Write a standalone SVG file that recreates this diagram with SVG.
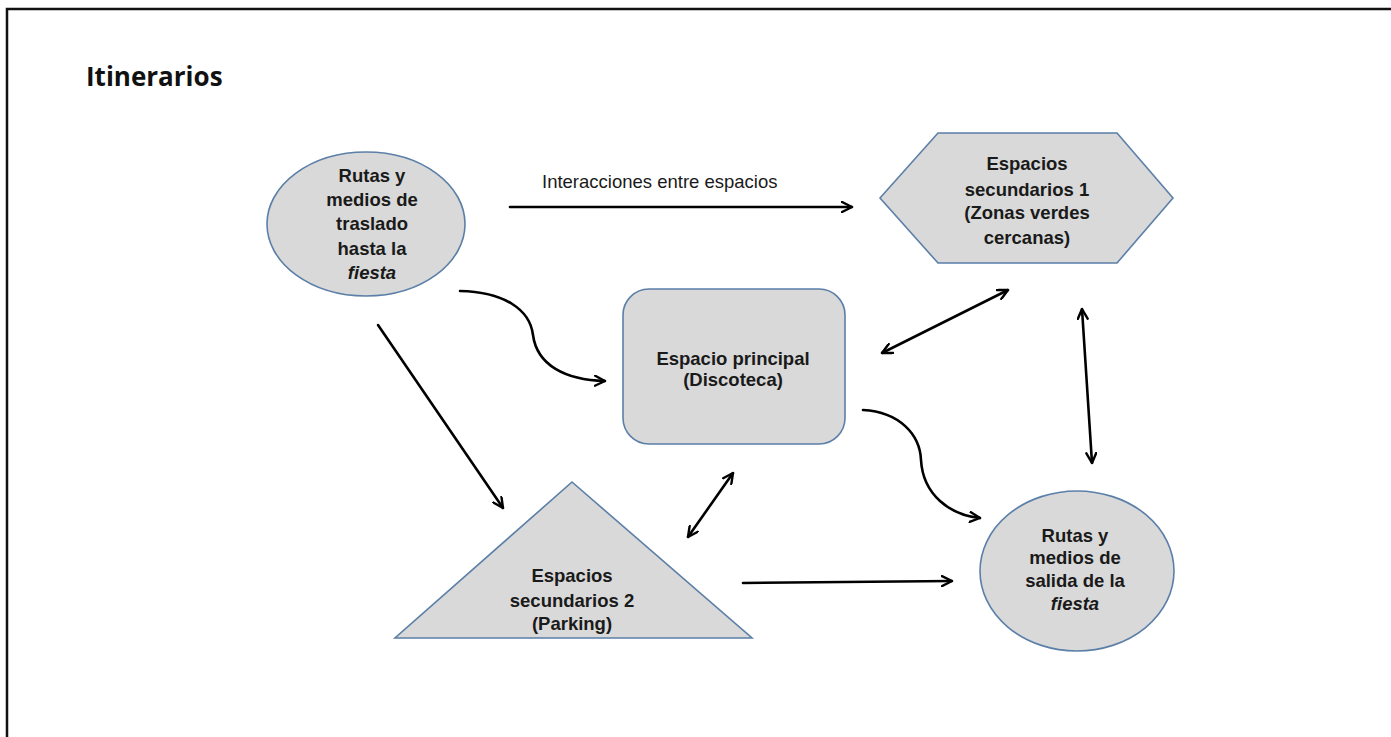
<svg xmlns="http://www.w3.org/2000/svg" width="1391" height="737" viewBox="0 0 1391 737">
<style>
.node{fill:#d9d9d9;stroke:#5b7fa8;stroke-width:1.6}
.lbl{font-family:"Liberation Sans",Arial,sans-serif;font-weight:bold;font-size:18.5px;fill:#1a1a1a;text-anchor:middle}
.con{fill:none;stroke:#000;stroke-width:2.6;stroke-linecap:round}
.plain{font-family:"Liberation Sans",Arial,sans-serif;font-size:18.5px;fill:#1a1a1a}
</style>
<defs>
<marker id="ah" viewBox="0 0 12 12" refX="11" refY="6" markerWidth="12" markerHeight="12" markerUnits="userSpaceOnUse" orient="auto-start-reverse">
<path d="M1,1 L11,6 L1,11" fill="none" stroke="#000" stroke-width="2.4" stroke-linecap="round" stroke-linejoin="round"/>
</marker>
</defs>
<rect width="1391" height="737" fill="#fff"/>
<path d="M7,737 V9 H1391" fill="none" stroke="#111" stroke-width="2.5"/>
<text x="86" y="86" font-family="'Open Sans',sans-serif" font-weight="bold" font-size="26" fill="#111">Itinerarios</text>

<g id="n-rutas-llegada">
<ellipse class="node" cx="366" cy="224" rx="99" ry="72"/>
<text class="lbl" x="372"><tspan x="372" y="182">Rutas y</tspan><tspan x="372" y="206">medios de</tspan><tspan x="372" y="230">traslado</tspan><tspan x="372" y="255">hasta la</tspan><tspan x="372" y="279" font-style="italic">fiesta</tspan></text>
</g>

<g id="n-espacios1">
<polygon class="node" points="880,198 938,133 1117,133 1173,198 1117,263 938,263"/>
<text class="lbl"><tspan x="1027" y="170">Espacios</tspan><tspan x="1027" y="196">secundarios 1</tspan><tspan x="1027" y="219">(Zonas verdes</tspan><tspan x="1027" y="244">cercanas)</tspan></text>
</g>

<g id="n-principal">
<rect class="node" x="623" y="289" width="222" height="155" rx="26"/>
<text class="lbl"><tspan x="733" y="365">Espacio principal</tspan><tspan x="733" y="386">(Discoteca)</tspan></text>
</g>

<g id="n-espacios2">
<polygon class="node" points="572,482 752,638 395,638"/>
<text class="lbl"><tspan x="572" y="582">Espacios</tspan><tspan x="572" y="607">secundarios 2</tspan><tspan x="572" y="630">(Parking)</tspan></text>
</g>

<g id="n-rutas-salida">
<ellipse class="node" cx="1077" cy="571" rx="97" ry="80"/>
<text class="lbl"><tspan x="1075" y="542">Rutas y</tspan><tspan x="1075" y="564">medios de</tspan><tspan x="1075" y="587">salida de la</tspan><tspan x="1075" y="610" font-style="italic">fiesta</tspan></text>
</g>

<g id="connectors">
<path class="con" d="M510,207 H852" marker-end="url(#ah)"/>
<text class="plain" x="542" y="188">Interacciones entre espacios</text>
<path class="con" d="M460,291 C505,292 530,310 533,335 C537,365 565,380 605,381" marker-end="url(#ah)"/>
<path class="con" d="M863,410 C900,412 920,435 921,460 C923,495 950,515 980,518" marker-end="url(#ah)"/>
<path class="con" d="M378,325 L503,508" marker-end="url(#ah)"/>
<path class="con" d="M882,353 L1008,290" marker-start="url(#ah)" marker-end="url(#ah)"/>
<path class="con" d="M1082,309 L1092,463" marker-start="url(#ah)" marker-end="url(#ah)"/>
<path class="con" d="M733,473 L688,537" marker-start="url(#ah)" marker-end="url(#ah)"/>
<path class="con" d="M743,583 L952,581" marker-end="url(#ah)"/>
</g>
</svg>
